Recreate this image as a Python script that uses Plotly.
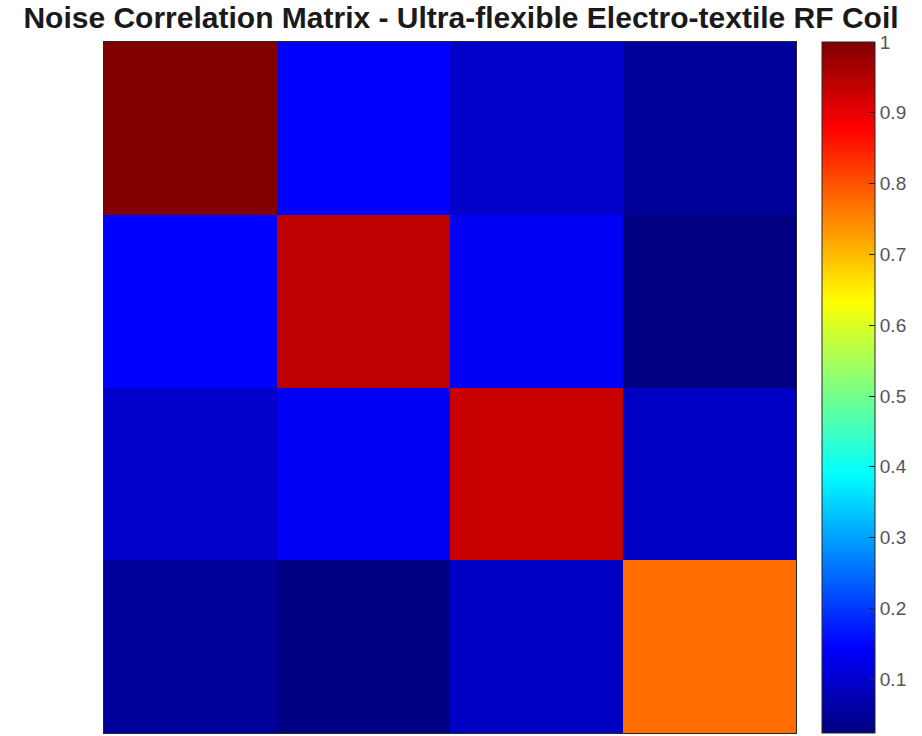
import plotly.graph_objects as go

# Normalised noise correlation magnitudes between the four coil elements
channels = ["1", "2", "3", "4"]
noise_corr = [
    [1.000, 0.145, 0.095, 0.050],
    [0.145, 0.940, 0.135, 0.024],
    [0.095, 0.135, 0.930, 0.090],
    [0.050, 0.028, 0.090, 0.775],
]
cbar_ticks = [0.1, 0.2, 0.3, 0.4, 0.5, 0.6, 0.7, 0.8, 0.9, 1.0]
cbar_labels = ["0.1", "0.2", "0.3", "0.4", "0.5", "0.6", "0.7", "0.8", "0.9", "1"]

# MATLAB-style jet colormap
jet = [
    [0.000, "rgb(0,0,128)"],
    [0.125, "rgb(0,0,255)"],
    [0.375, "rgb(0,255,255)"],
    [0.625, "rgb(255,255,0)"],
    [0.875, "rgb(255,0,0)"],
    [1.000, "rgb(128,0,0)"],
]

W, H = 922, 736
L, R, T, B = 104, 126, 42, 3
plot_w = W - L - R

fig = go.Figure(
    go.Heatmap(
        z=noise_corr,
        x=channels,
        y=channels,
        colorscale=jet,
        xgap=0,
        ygap=0,
        colorbar=dict(
            x=(822 - L) / plot_w,
            xanchor="left",
            xpad=0,
            y=0.5,
            yanchor="middle",
            len=1.0,
            lenmode="fraction",
            ypad=0,
            thickness=53,
            thicknessmode="pixels",
            outlinewidth=1,
            outlinecolor="#262626",
            tickmode="array",
            tickvals=cbar_ticks,
            ticktext=cbar_labels,
            ticks="inside",
            ticklen=6,
            tickcolor="#262626",
            tickwidth=1,
            tickfont=dict(family="Liberation Sans, Arial, sans-serif", size=19, color="#555555"),
        ),
        hoverinfo="z",
    )
)

fig.update_xaxes(
    showticklabels=False, ticks="", showgrid=False, zeroline=False,
    showline=True, linecolor="#262626", linewidth=1, mirror=True,
)
fig.update_yaxes(
    autorange="reversed",
    showticklabels=False, ticks="", showgrid=False, zeroline=False,
    showline=True, linecolor="#262626", linewidth=1, mirror=True,
)

fig.update_layout(
    width=W,
    height=H,
    margin=dict(l=L, r=R, t=T, b=B),
    paper_bgcolor="white",
    plot_bgcolor="white",
    title=dict(
        text="<b>Noise Correlation Matrix - Ultra-flexible Electro-textile RF Coil</b>",
        x=0.5,
        xanchor="center",
        xref="container",
        y=1 - 17 / H,
        yanchor="middle",
        yref="container",
        font=dict(family="Liberation Sans, Arial, sans-serif", size=30, color="#1a1a1a"),
    ),
)

fig.write_html("out.html")
